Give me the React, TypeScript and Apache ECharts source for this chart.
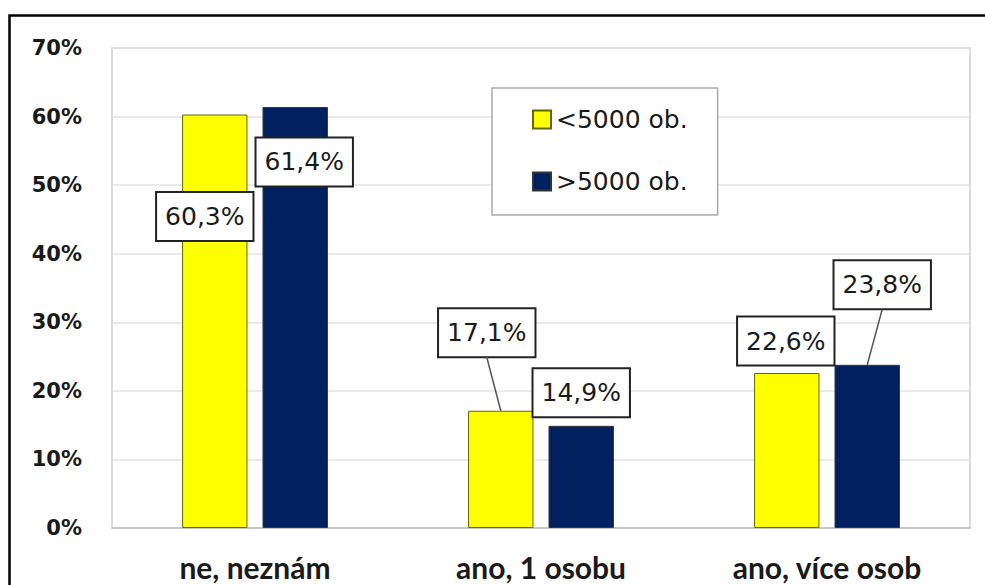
import React, { useEffect, useRef } from "react";
import * as echarts from "echarts";

const categories = ["ne, neznám", "ano, 1 osobu", "ano, více osob"];
const seriesNames = ["<5000 ob.", ">5000 ob."];
const smallTowns = [60.3, 17.1, 22.6];
const largeTowns = [61.4, 14.9, 23.8];
const seriesColors = ["#FFFF00", "#002060"];

// label box centre, relative to the top centre of its bar (px)
const labelOffsets = [
  [[-10, 102], [-14, -78], [-1, -32]],
  [[9, 55], [0, -33], [15, -80]],
];
// which labels get a leader line
const leaderLines = [
  [false, true, false],
  [false, false, true],
];

const BAR_GAP = 0.23;
const CAT_GAP = 0.49;
const LABEL_BOX_H = 49;

const fmt = (v: number) => v.toFixed(1).replace(".", ",") + "%";

export default function App() {
  const ref = useRef<HTMLDivElement>(null);
  useEffect(() => {
    if (!ref.current) return;
    const chart = echarts.init(ref.current, undefined, { renderer: "svg" });
    const seriesData = [smallTowns, largeTowns];

    const leaderData: number[][] = [];
    seriesData.forEach((arr, si) =>
      arr.forEach((v, di) => {
        if (leaderLines[si][di]) leaderData.push([di, v, si]);
      })
    );

    const option: any = {
      animation: false,
      backgroundColor: "#ffffff",
      grid: { left: 112, right: 15, top: 48, bottom: 57, show: true, borderColor: "#cfcfcf", borderWidth: 1.5 },
      legend: {
        orient: "vertical",
        left: 492,
        top: 88,
        padding: [19, 30, 21, 40],
        itemGap: 37,
        itemWidth: 18,
        itemHeight: 18,
        icon: "rect",
        borderColor: "#aaaaaa",
        borderWidth: 1.5,
        backgroundColor: "#ffffff",
        data: seriesNames,
        textStyle: { fontFamily: "DejaVu Sans", fontSize: 25, color: "#1a1a1a", lineHeight: 24 },
      },
      graphic: [
        {
          type: "rect",
          left: 7,
          top: 13,
          shape: { width: 1000, height: 600 },
          style: { fill: "none", stroke: "#000000", lineWidth: 2.5 },
          silent: true,
          z: 100,
        },
      ],
      xAxis: {
        type: "category",
        data: categories,
        axisTick: { show: false },
        axisLine: { show: true, lineStyle: { color: "#bfbfbf", width: 1.5 } },
        axisLabel: { margin: 24, fontFamily: "Lato", fontWeight: "bold", fontSize: 30, color: "#1a1a1a" },
      },
      yAxis: {
        type: "value",
        min: 0,
        max: 70,
        interval: 10,
        axisLine: { show: false },
        axisTick: { show: false },
        splitLine: { lineStyle: { color: "#e3e3e3", width: 1.5 } },
        axisLabel: {
          margin: 30,
          formatter: "{value}%",
          fontFamily: "DejaVu Sans",
          fontWeight: "bold",
          fontSize: 21,
          color: "#1a1a1a",
        },
      },
      series: [
        ...seriesNames.map((name, si) => ({
          name,
          type: "bar",
          barGap: BAR_GAP * 100 + "%",
          barCategoryGap: CAT_GAP * 100 + "%",
          z: 2,
          itemStyle: { color: seriesColors[si], borderColor: si === 0 ? "#666600" : "#333333", borderWidth: 1 },
          data: seriesData[si],
          label: {
            show: true,
            position: "top",
            formatter: (p: any) => fmt(p.value),
            fontFamily: "DejaVu Sans",
            fontSize: 25,
            color: "#1a1a1a",
            backgroundColor: "#ffffff",
            borderColor: "#222222",
            borderWidth: 2,
            padding: [10, 8, 9, 8],
            lineHeight: 28,
          },
          labelLayout: (params: any) => {
            const [dx, dy] = labelOffsets[params.seriesIndex][params.dataIndex];
            const r = params.rect;
            return {
              x: r.x + r.width / 2 + dx,
              y: r.y + dy,
              align: "center",
              verticalAlign: "middle",
            };
          },
        })),
        {
          type: "custom",
          name: "leader",
          z: 3,
          silent: true,
          data: leaderData,
          renderItem: (params: any, api: any) => {
            const di = api.value(0);
            const v = api.value(1);
            const si = api.value(2);
            const [cx, top] = api.coord([di, v]);
            const band = api.size([1, 0])[0];
            const bw = (band * (1 - CAT_GAP)) / (2 + BAR_GAP);
            const total = bw * 2 + bw * BAR_GAP;
            const barCx = cx - total / 2 + bw / 2 + si * (bw + bw * BAR_GAP);
            const [dx, dy] = labelOffsets[si][di];
            const lx = barCx + dx;
            const ly = top + dy + LABEL_BOX_H / 2;
            return {
              type: "line",
              shape: { x1: lx, y1: ly, x2: barCx, y2: top },
              style: { stroke: "#555555", lineWidth: 1.5 },
            };
          },
        },
      ],
    };
    chart.setOption(option);
    return () => chart.dispose();
  }, []);
  return (
    <div
      ref={ref}
      style={{ position: "fixed", left: 0, top: 0, width: 985, height: 585 }}
    />
  );
}
